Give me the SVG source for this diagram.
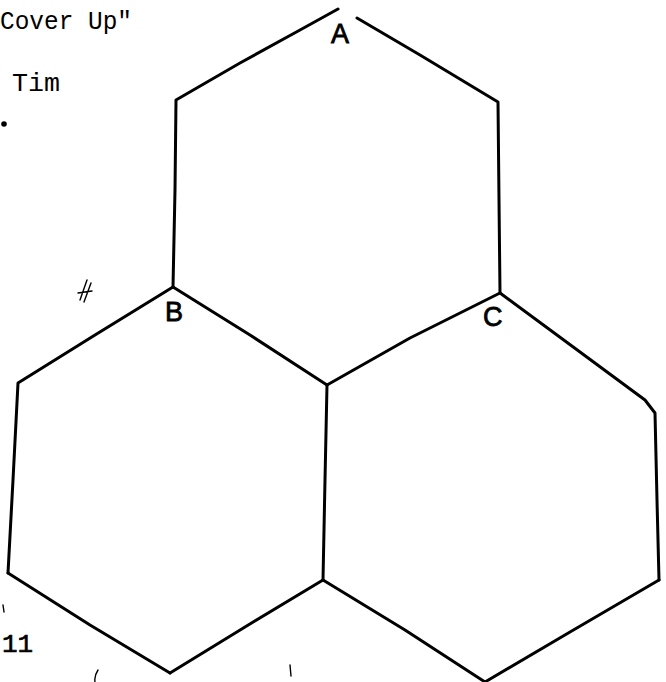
<svg xmlns="http://www.w3.org/2000/svg" width="666" height="682" viewBox="0 0 666 682">
<style>
.edge{fill:none;stroke:#000;stroke-width:3;stroke-linecap:round;stroke-linejoin:round}
.type{font-family:"Liberation Mono","Courier New",monospace;font-size:26px;fill:#000}
.hand{font-family:"Liberation Sans",Arial,sans-serif;fill:#000;font-size:27px;stroke:#000;stroke-width:0.8}
.mark{fill:none;stroke:#000;stroke-width:1.4;stroke-linecap:round}
</style>
<rect width="666" height="682" fill="#fff"/>
<g id="caption">
<text class="type" x="0" y="29" textLength="132" lengthAdjust="spacingAndGlyphs">Cover Up"</text>
<text class="type" x="12" y="91" textLength="48" lengthAdjust="spacingAndGlyphs">Tim</text>
<circle cx="4" cy="124" r="2.8" fill="#000"/>
<text class="type" x="2" y="652" font-size="27" stroke="#000" stroke-width="0.6">11</text>
</g>
<g id="connectors">
<path class="edge" d="M338,9 L300,30 L240,63 L176,100 L175,190 L173,287"/>
<path class="edge" d="M357,18 L420,55 L498,102 L499,200 L500,293"/>
<path class="edge" d="M173,287 L250,335 L327,385"/>
<path class="edge" d="M500,293 L410,338 L327,385"/>
<path class="edge" d="M173,287 L95,335 L18,383 L13,480 L8,573"/>
<path class="edge" d="M8,573 L90,625 L170,673"/>
<path class="edge" d="M170,673 L245,627 L323,580"/>
<path class="edge" d="M327,385 L325,480 L323,580"/>
<path class="edge" d="M500,293 L580,352 L645,400 L655,413 L657,500 L659,580"/>
<path class="edge" d="M659,580 L570,632 L485,682"/>
<path class="edge" d="M323,580 L405,630 L485,682"/>
</g>
<g id="node-A"><text class="hand" x="331" y="43">A</text></g>
<g id="node-B"><text class="hand" x="165" y="321" font-size="24">B</text></g>
<g id="node-C"><text class="hand" x="483" y="326" font-size="24">C</text></g>
<g id="marks">
<path class="mark" d="M80,300 L87,280 M84,302 L91,283 M78,293 L92,291"/>
<path class="mark" d="M98,670 Q94,676 95,682"/>
<path class="mark" d="M290,665 L291,676"/>
<path class="mark" d="M3,605 L4,612"/>
</g>
</svg>
